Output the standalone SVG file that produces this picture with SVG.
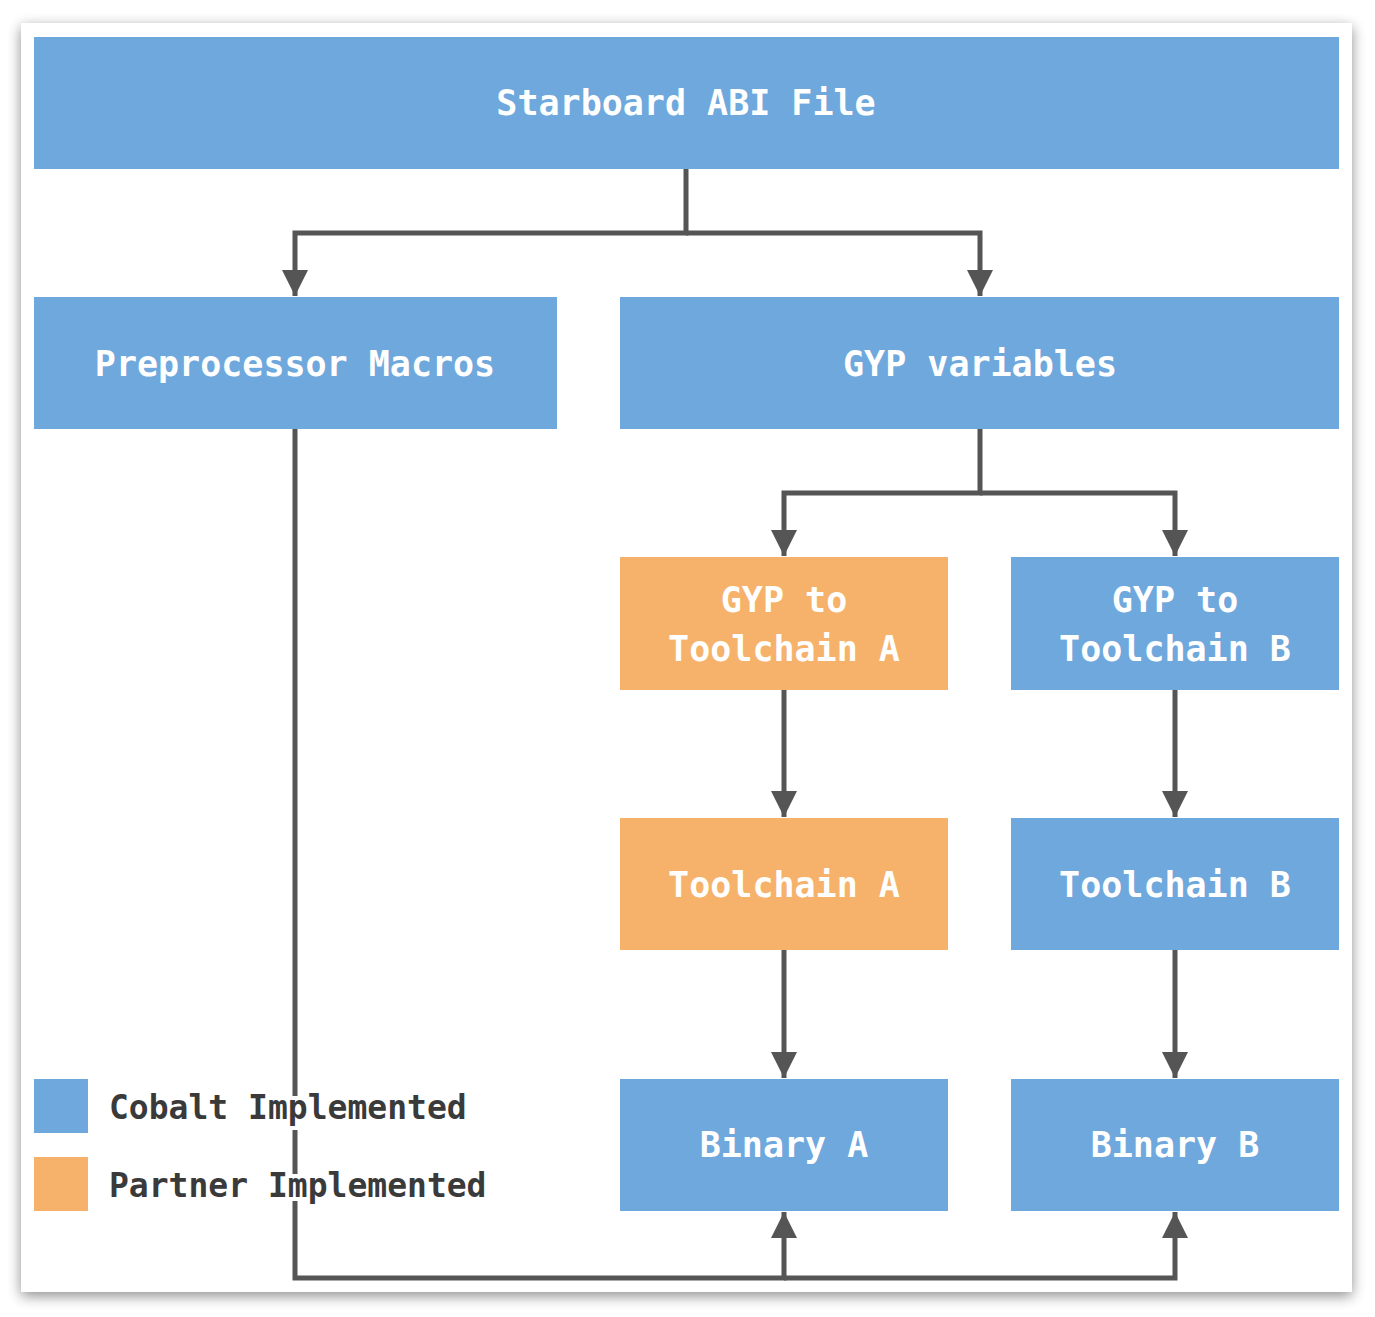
<svg xmlns="http://www.w3.org/2000/svg" width="1375" height="1317" viewBox="0 0 1375 1317">
<defs>
<filter id="sh" x="-5%" y="-5%" width="110%" height="110%"><feGaussianBlur in="SourceAlpha" stdDeviation="7"/><feOffset dx="0" dy="4"/><feComponentTransfer><feFuncA type="linear" slope="0.45"/></feComponentTransfer><feMerge><feMergeNode/><feMergeNode in="SourceGraphic"/></feMerge></filter>
<marker id="ah" markerUnits="userSpaceOnUse" markerWidth="26" markerHeight="32" refX="26" refY="13" orient="auto"><path d="M0,0 L26,13 L0,26 Z" fill="#555"/></marker>
<style>
.b{fill:#6fa8dc}.o{fill:#f6b26b}
.t{font-family:"DejaVu Sans Mono","Liberation Mono",monospace;font-weight:bold;font-size:35px;fill:#fff;text-anchor:middle}
.l{font-family:"DejaVu Sans Mono","Liberation Mono",monospace;font-weight:bold;font-size:33px;fill:#3a3a3a;stroke:#fff;stroke-width:8;paint-order:stroke}
.c{fill:none;stroke:#555;stroke-width:5}
</style>
</defs>
<rect width="1375" height="1317" fill="#fff"/>
<rect x="21" y="23" width="1331" height="1269" fill="#fff" filter="url(#sh)"/>
<g id="connectors">
<path class="c" d="M686,169 V233 H295 V296" marker-end="url(#ah)"/>
<path class="c" d="M686,233 H980 V296" marker-end="url(#ah)"/>
<path class="c" d="M980,429 V493 H784 V556" marker-end="url(#ah)"/>
<path class="c" d="M980,493 H1175 V556" marker-end="url(#ah)"/>
<path class="c" d="M784,690 V817" marker-end="url(#ah)"/>
<path class="c" d="M1175,690 V817" marker-end="url(#ah)"/>
<path class="c" d="M784,950 V1078" marker-end="url(#ah)"/>
<path class="c" d="M1175,950 V1078" marker-end="url(#ah)"/>
<path class="c" d="M295,429 V1278 H784 V1212" marker-end="url(#ah)"/>
<path class="c" d="M784,1278 H1175 V1212" marker-end="url(#ah)"/>
</g>
<g id="abi"><rect class="b" x="34" y="37" width="1305" height="132"/><text class="t" x="686" y="115">Starboard ABI File</text></g>
<g id="macros"><rect class="b" x="34" y="297" width="523" height="132"/><text class="t" x="295" y="376">Preprocessor Macros</text></g>
<g id="gypvars"><rect class="b" x="620" y="297" width="719" height="132"/><text class="t" x="980" y="376">GYP variables</text></g>
<g id="gypa"><rect class="o" x="620" y="557" width="328" height="133"/><text class="t" x="784" y="612">GYP to</text><text class="t" x="784" y="661">Toolchain A</text></g>
<g id="gypb"><rect class="b" x="1011" y="557" width="328" height="133"/><text class="t" x="1175" y="612">GYP to</text><text class="t" x="1175" y="661">Toolchain B</text></g>
<g id="toola"><rect class="o" x="620" y="818" width="328" height="132"/><text class="t" x="784" y="897">Toolchain A</text></g>
<g id="toolb"><rect class="b" x="1011" y="818" width="328" height="132"/><text class="t" x="1175" y="897">Toolchain B</text></g>
<g id="bina"><rect class="b" x="620" y="1079" width="328" height="132"/><text class="t" x="784" y="1157">Binary A</text></g>
<g id="binb"><rect class="b" x="1011" y="1079" width="328" height="132"/><text class="t" x="1175" y="1157">Binary B</text></g>
<g id="legend">
<rect class="b" x="34" y="1079" width="54" height="54"/><text class="l" x="109" y="1119">Cobalt Implemented</text>
<rect class="o" x="34" y="1157" width="54" height="54"/><text class="l" x="109" y="1197">Partner Implemented</text>
</g>
</svg>
